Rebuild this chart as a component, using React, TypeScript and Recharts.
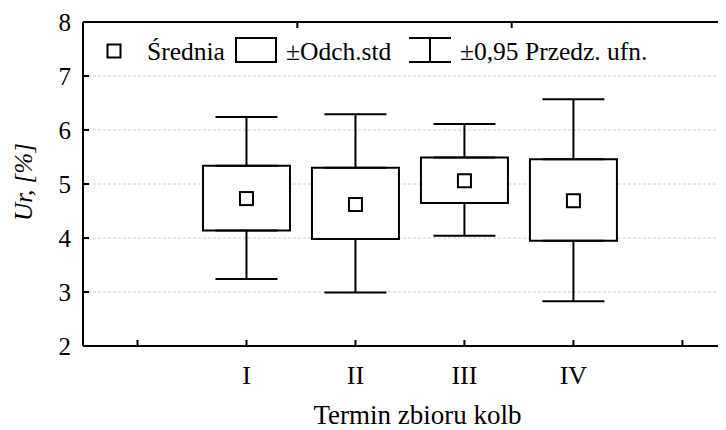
import React from "react";
import {
  ComposedChart,
  Bar,
  Scatter,
  ErrorBar,
  XAxis,
  YAxis,
  CartesianGrid,
} from "recharts";

// harvest terms and their position on the numeric x axis
const terms = ["I", "II", "III", "IV"];
const termPos = [2, 3, 4, 5];

// mean, ±std box and ±0.95 confidence interval
const means = [4.73, 4.62, 5.06, 4.69];
const sdLow = [4.14, 3.98, 4.65, 3.95];
const sdHigh = [5.34, 5.3, 5.49, 5.46];
const ciLow = [3.24, 2.99, 4.04, 2.83];
const ciHigh = [6.24, 6.29, 6.11, 6.57];

const xTicks = [1, 2, 3, 4, 5, 6];
const yTicks = [2, 3, 4, 5, 6, 7, 8];

const FONT = "Liberation Serif";
const serif = { fontFamily: FONT };

const data = terms.map((t, i) => ({
  x: termPos[i],
  term: t,
  mean: means[i],
  box: [sdLow[i], sdHigh[i]],
  boxTop: sdHigh[i],
  boxBottom: sdLow[i],
  // whiskers go from the box edge out to the CI limit
  upperErr: [0, ciHigh[i] - sdHigh[i]],
  lowerErr: [sdLow[i] - ciLow[i], 0],
}));

const termLabel = (v: number) => {
  const i = termPos.indexOf(v);
  return i >= 0 ? terms[i] : "";
};

const XTitle = (props: any) => {
  const vb = props.viewBox || { x: 0, y: 0, width: 0, height: 0 };
  return (
    <text
      x={vb.x + vb.width / 2 + 13}
      y={vb.y + 78}
      textAnchor="middle"
      style={{ ...serif, fontSize: 27 }}
      fill="#000"
    >
      Termin zbioru kolb
    </text>
  );
};

const YTitle = (props: any) => {
  const vb = props.viewBox || { x: 0, y: 0, width: 0, height: 0 };
  const x = vb.x + 24;
  const y = vb.y + vb.height / 2 - 2;
  return (
    <text
      x={x}
      y={y}
      transform={`rotate(-90, ${x}, ${y})`}
      textAnchor="middle"
      style={{ ...serif, fontSize: 25, fontStyle: "italic" }}
      fill="#000"
    >
      Ur, [%]
    </text>
  );
};

const MeanMarker = (props: any) => {
  const { cx, cy } = props;
  if (cx == null || cy == null) return <g />;
  return (
    <rect
      x={cx - 6.5}
      y={cy - 6.5}
      width={13}
      height={13}
      fill="#fff"
      stroke="#000"
      strokeWidth={2}
    />
  );
};

const Hidden = () => <g />;

const xTickStyle = { fontSize: 26, fontFamily: FONT, fill: "#000", style: serif };
const yTickStyle = { fontSize: 25, fontFamily: FONT, fill: "#000", style: serif };
const axisLineStyle = { stroke: "#000", strokeWidth: 2 };
const tickLineStyle = { stroke: "#000", strokeWidth: 2 };

const legendText = { ...serif, fontSize: 25.5 };

// legend drawn as an overlay inside the plot (top-left)
const LegendOverlay = () => (
  <svg
    width={718}
    height={80}
    style={{ position: "absolute", left: 0, top: 0, pointerEvents: "none" }}
  >
    <rect x={99.5} y={36.5} width={13} height={13} fill="#fff" stroke="#000" strokeWidth={2} />
    <text x={139} y={52} style={legendText} fill="#000">Średnia</text>
    <rect x={228} y={30} width={40} height={24} fill="#fff" stroke="#000" strokeWidth={2} />
    <text x={278} y={52} style={legendText} fill="#000">±Odch.std</text>
    <line x1={401} y1={30} x2={443} y2={30} stroke="#000" strokeWidth={2} />
    <line x1={422} y1={30} x2={422} y2={54} stroke="#000" strokeWidth={2} />
    <line x1={401} y1={54} x2={443} y2={54} stroke="#000" strokeWidth={2} />
    <text x={452} y={52} style={legendText} fill="#000">±0,95 Przedz. ufn.</text>
  </svg>
);

export default function App() {
  return (
    <div style={{ position: "relative", width: 718, height: 422, fontFamily: FONT }}>
      <ComposedChart
        width={718}
        height={422}
        data={data}
        margin={{ top: 0, right: 0, bottom: 0, left: 0 }}
        style={serif}
      >
        <CartesianGrid vertical={false} stroke="#cccccc" strokeDasharray="3 2" />
        <XAxis
          xAxisId="top"
          orientation="top"
          type="number"
          domain={[0.5, 6.4]}
          allowDataOverflow
          ticks={xTicks}
          interval={0}
          height={14}
          tickSize={-6}
          tickFormatter={() => ""}
          axisLine={axisLineStyle}
          tickLine={tickLineStyle}
        />
        <XAxis
          dataKey="x"
          type="number"
          domain={[0.5, 6.4]}
          allowDataOverflow
          ticks={xTicks}
          interval={0}
          height={84}
          tickSize={-6}
          tickMargin={26}
          tickFormatter={termLabel}
          tick={xTickStyle}
          axisLine={axisLineStyle}
          tickLine={tickLineStyle}
          label={<XTitle />}
        />
        <YAxis
          type="number"
          domain={[2, 8]}
          allowDataOverflow
          ticks={yTicks}
          interval={0}
          width={75}
          tickSize={-6}
          tickMargin={18}
          tick={yTickStyle}
          axisLine={axisLineStyle}
          tickLine={tickLineStyle}
          label={<YTitle />}
        />
        <Bar
          dataKey="box"
          barSize={87}
          fill="#fff"
          stroke="#000"
          strokeWidth={2}
          isAnimationActive={false}
        />
        <Scatter dataKey="boxTop" shape={Hidden} isAnimationActive={false}>
          <ErrorBar
            dataKey="upperErr"
            direction="y"
            width={31}
            stroke="#000"
            strokeWidth={2}
            isAnimationActive={false}
          />
        </Scatter>
        <Scatter dataKey="boxBottom" shape={Hidden} isAnimationActive={false}>
          <ErrorBar
            dataKey="lowerErr"
            direction="y"
            width={31}
            stroke="#000"
            strokeWidth={2}
            isAnimationActive={false}
          />
        </Scatter>
        <Scatter dataKey="mean" shape={MeanMarker} isAnimationActive={false} />
      </ComposedChart>
      <LegendOverlay />
    </div>
  );
}
